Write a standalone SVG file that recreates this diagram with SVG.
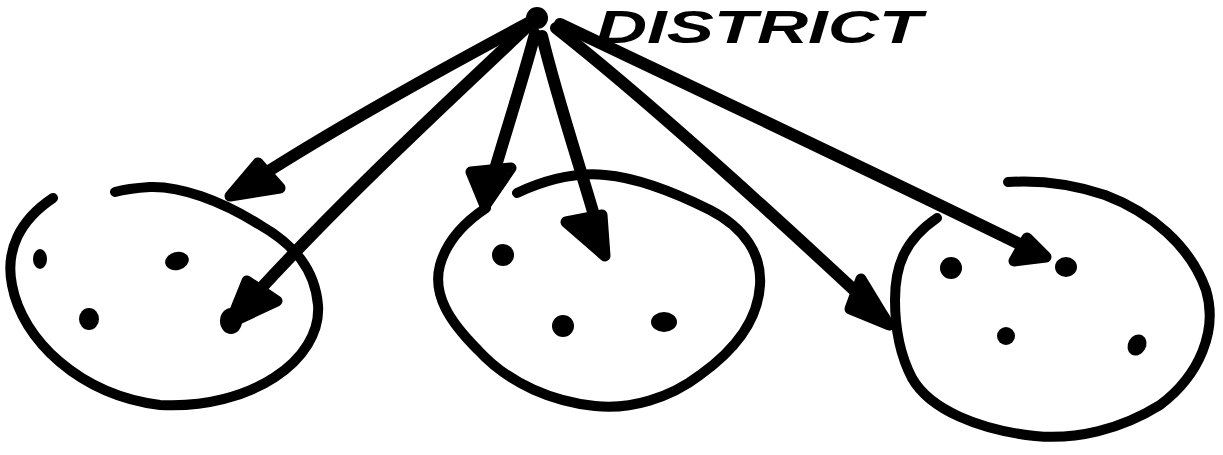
<svg xmlns="http://www.w3.org/2000/svg" width="1223" height="455" viewBox="0 0 1223 455">
<style>
.ln{fill:none;stroke:#000;stroke-width:10;stroke-linecap:round;stroke-linejoin:round}
.ar{fill:none;stroke:#000;stroke-width:12;stroke-linecap:round;stroke-linejoin:round}
.hd{fill:#000;stroke:#000;stroke-width:11;stroke-linecap:round;stroke-linejoin:round}
.dot{fill:#000}
.lbl{font-family:"Liberation Sans",Arial,sans-serif;font-weight:bold;font-style:italic;font-size:46px;fill:#000}
</style>
<rect width="1223" height="455" fill="#fff"/>
<g id="label">
<text class="lbl" x="596" y="43" textLength="326" lengthAdjust="spacingAndGlyphs">DISTRICT</text>
</g>
<g id="hub">
<circle class="dot" cx="537" cy="18" r="11"/>
</g>
<g id="cluster-left">
<path class="ln" d="M53 198 C20 220 5 250 12 285 C22 340 80 395 160 405 C250 410 322 360 318 305 C315 270 295 245 260 225 C220 200 180 186 150 187 C135 188 122 190 115 192"/>
<ellipse class="dot" cx="40" cy="259" rx="7" ry="10"/>
<ellipse class="dot" cx="177" cy="261" rx="12" ry="9" transform="rotate(-15 177 261)"/>
<ellipse class="dot" cx="89" cy="319" rx="10" ry="11"/>
<ellipse class="dot" cx="231" cy="321" rx="11" ry="13"/>
</g>
<g id="cluster-middle">
<path class="ln" d="M517 193 C545 180 575 172 605 175 C640 178 680 195 710 210 C745 228 762 255 760 285 C758 320 735 350 700 375 C670 398 630 410 595 406 C555 402 510 385 478 350 C450 322 432 295 440 265 C447 240 465 222 486 208"/>
<circle class="dot" cx="503" cy="255" r="11"/>
<circle class="dot" cx="563" cy="326" r="11"/>
<ellipse class="dot" cx="664" cy="322" rx="13" ry="10"/>
</g>
<g id="cluster-right">
<path class="ln" d="M1008 182 C1040 180 1075 185 1105 195 C1150 212 1190 245 1206 290 C1218 330 1200 375 1160 405 C1120 430 1075 440 1035 436 C980 430 930 410 912 378 C900 355 895 330 895 300 C895 265 905 240 937 218"/>
<ellipse class="dot" cx="951" cy="268" rx="11" ry="11"/>
<ellipse class="dot" cx="1066" cy="267" rx="11" ry="10"/>
<ellipse class="dot" cx="1006" cy="336" rx="9" ry="9"/>
<ellipse class="dot" cx="1137" cy="345" rx="9" ry="11" transform="rotate(30 1137 345)"/>
</g>
<g id="connectors">
<path class="ar" d="M530 22 C440 70 330 130 236 192"/>
<path class="hd" d="M258 163 L230 196 L280 188 Z"/>
<path class="ar" d="M528 26 C450 100 330 210 236 316"/>
<path class="hd" d="M247 281 L230 323 L277 301 Z"/>
<path class="ar" d="M535 34 C520 90 500 150 486 200"/>
<path class="hd" d="M471 172 L485 206 L511 168 Z"/>
<path class="ar" d="M542 36 C560 110 585 180 604 250"/>
<path class="hd" d="M566 222 L605 256 L602 215 Z"/>
<path class="ar" d="M556 28 C660 110 790 230 884 318"/>
<path class="hd" d="M861 279 L889 325 L850 309 Z"/>
<path class="ar" d="M560 24 C720 100 900 185 1040 254"/>
<path class="hd" d="M1027 238 L1046 257 L1014 261 Z"/>
</g>
</svg>
